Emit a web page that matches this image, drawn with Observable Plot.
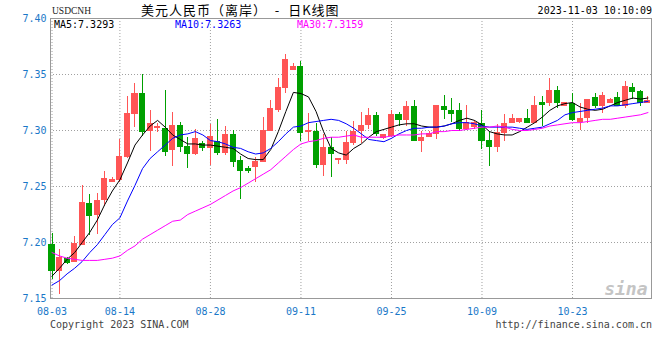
<!DOCTYPE html>
<html><head><meta charset="utf-8">
<script src="https://cdn.jsdelivr.net/npm/d3@7"></script>
<script src="https://cdn.jsdelivr.net/npm/@observablehq/plot@0.6"></script>
<style>
body{margin:0;background:#fff;}
#wrap{position:relative;width:660px;height:360px;font-family:"DejaVu Sans Mono",monospace;font-size:10px;color:#000;}
#chart{position:absolute;left:0;top:0;}
.t{position:absolute;white-space:pre;line-height:1;}
</style></head><body>
<div id="wrap"><div id="chart"></div></div>
<script>
// ---- data ----
const symbol = "USDCNH";
const title = "美元人民币（离岸）  -  日K线图";
const stamp = "2023-11-03 10:10:09";
const maLabels = ["MA5:7.3293", "MA10:7.3263", "MA30:7.3159"];
const footerLeft = "Copyright 2023 SINA.COM";
const footerRight = "http://finance.sina.com.cn";
const yTicks = [7.15, 7.20, 7.25, 7.30, 7.35, 7.40];
const tickLabels = ["08-03","08-14","08-28","09-11","09-25","10-09","10-23"];

const open = [7.198,7.175,7.185,7.183,7.198,7.234,7.225,7.238,7.254,7.256,
7.276,7.315,7.333,7.300,7.302,7.301,7.283,7.304,7.285,7.279,
7.288,7.284,7.290,7.280,7.296,7.273,7.266,7.267,7.272,7.300,
7.318,7.338,7.354,7.357,7.299,7.299,7.269,7.284,7.274,7.274,
7.289,7.300,7.305,7.313,7.293,7.295,7.314,7.309,7.321,7.291,
7.294,7.297,7.321,7.317,7.317,7.301,7.303,7.306,7.291,7.285,
7.298,7.307,7.308,7.310,7.307,7.325,7.325,7.335,7.322,7.324,
7.308,7.311,7.329,7.322,7.325,7.329,7.322,7.338,7.334,7.325];
const high = [7.208,7.194,7.187,7.205,7.251,7.243,7.244,7.263,7.258,7.292,
7.330,7.342,7.350,7.318,7.306,7.336,7.316,7.307,7.294,7.301,
7.290,7.305,7.310,7.304,7.300,7.277,7.268,7.276,7.312,7.327,
7.346,7.368,7.360,7.362,7.315,7.306,7.296,7.294,7.275,7.299,
7.308,7.316,7.320,7.316,7.296,7.318,7.316,7.326,7.327,7.299,
7.299,7.322,7.331,7.329,7.324,7.322,7.309,7.318,7.299,7.305,
7.314,7.314,7.310,7.319,7.330,7.330,7.346,7.339,7.325,7.333,
7.324,7.327,7.333,7.334,7.329,7.334,7.344,7.342,7.336,7.330];
const low = [7.167,7.154,7.180,7.182,7.197,7.206,7.207,7.232,7.254,7.254,
7.275,7.303,7.295,7.281,7.298,7.277,7.268,7.280,7.266,7.278,
7.281,7.269,7.278,7.278,7.267,7.238,7.262,7.254,7.271,7.299,
7.316,7.333,7.354,7.290,7.290,7.266,7.259,7.258,7.270,7.270,
7.287,7.288,7.301,7.295,7.292,7.294,7.304,7.304,7.290,7.280,
7.294,7.292,7.310,7.307,7.299,7.300,7.301,7.283,7.268,7.280,
7.290,7.306,7.306,7.306,7.306,7.304,7.321,7.320,7.321,7.308,
7.300,7.306,7.320,7.315,7.324,7.321,7.320,7.328,7.321,7.324];
const close = [7.175,7.186,7.182,7.199,7.235,7.224,7.237,7.257,7.256,7.276,
7.315,7.333,7.299,7.306,7.303,7.281,7.304,7.285,7.279,7.292,
7.284,7.294,7.280,7.296,7.272,7.264,7.264,7.272,7.300,7.319,
7.338,7.363,7.357,7.298,7.300,7.269,7.284,7.279,7.275,7.289,
7.299,7.304,7.313,7.297,7.296,7.314,7.309,7.321,7.291,7.293,
7.297,7.322,7.318,7.315,7.301,7.307,7.307,7.291,7.285,7.298,
7.306,7.310,7.310,7.307,7.322,7.323,7.335,7.325,7.325,7.309,
7.310,7.327,7.322,7.331,7.327,7.322,7.339,7.334,7.325,7.326];
const ma5 = [7.170,7.177,7.185,7.191,7.200,7.209,7.220,7.234,7.246,7.256,
7.271,7.287,7.296,7.304,7.309,7.303,7.296,7.292,7.288,7.288,
7.287,7.287,7.286,7.285,7.284,7.279,7.275,7.274,7.274,7.283,
7.299,7.317,7.334,7.333,7.330,7.317,7.299,7.284,7.280,7.278,
7.284,7.288,7.294,7.299,7.301,7.303,7.305,7.306,7.306,7.304,
7.303,7.303,7.304,7.306,7.309,7.311,7.309,7.305,7.299,7.297,
7.296,7.296,7.299,7.303,7.307,7.312,7.318,7.322,7.324,7.325,
7.321,7.319,7.318,7.319,7.322,7.325,7.327,7.329,7.328,7.329];
const ma10 = [7.162,7.166,7.172,7.177,7.183,7.191,7.198,7.207,7.216,7.222,
7.237,7.251,7.266,7.275,7.281,7.287,7.293,7.296,7.297,7.299,
7.296,7.291,7.290,7.288,7.285,7.284,7.281,7.279,7.280,7.284,
7.290,7.297,7.303,7.304,7.307,7.308,7.309,7.310,7.309,7.306,
7.302,7.297,7.292,7.291,7.290,7.293,7.297,7.300,7.302,7.302,
7.303,7.303,7.304,7.306,7.307,7.307,7.306,7.304,7.303,7.303,
7.303,7.303,7.302,7.301,7.302,7.303,7.306,7.309,7.314,7.316,
7.317,7.318,7.319,7.320,7.322,7.322,7.323,7.324,7.325,7.326];
const ma30 = [7.191,7.188,7.186,7.185,7.184,7.184,7.184,7.185,7.186,7.188,
7.193,7.197,7.203,7.207,7.211,7.215,7.219,7.220,7.225,7.228,
7.231,7.234,7.238,7.242,7.246,7.249,7.253,7.257,7.261,7.265,
7.271,7.277,7.283,7.288,7.290,7.291,7.293,7.294,7.294,7.295,
7.296,7.294,7.294,7.294,7.294,7.295,7.296,7.296,7.296,7.297,
7.297,7.299,7.299,7.300,7.300,7.301,7.302,7.303,7.303,7.304,
7.303,7.301,7.300,7.300,7.301,7.302,7.304,7.305,7.306,7.307,
7.307,7.308,7.309,7.310,7.310,7.311,7.312,7.313,7.314,7.316];

// trading calendar: Mon–Sat bars from 2023-08-03 to 2023-11-03
const fmt = d3.utcFormat("%m-%d");
const dates = d3.utcDay.range(new Date(Date.UTC(2023,7,3)), new Date(Date.UTC(2023,10,4)))
  .filter(d => d.getUTCDay() !== 0).map(fmt);

const RED = "#ff5555", GREEN = "#00a000", AXIS = "#1a78c8", GRID = "#a0a0a0";
const rows = close.map((c, i) => ({
  i, date: dates[i], open: open[i], high: high[i], low: low[i], close: c,
  ma5: ma5[i], ma10: ma10[i], ma30: ma30[i],
  color: c >= open[i] ? RED : GREEN
}));
const tickIdx = tickLabels.map(l => dates.indexOf(l));

const chart = Plot.plot({
  width: 660, height: 360,
  marginTop: 18, marginBottom: 62, marginLeft: 50, marginRight: 9,
  x: {type: "linear", domain: [-0.2, 79.47], axis: null},
  y: {domain: [7.15, 7.40], axis: null},
  style: {background: "transparent", fontFamily: "DejaVu Sans Mono, monospace", fontSize: "10px"},
  marks: [
    Plot.gridY(yTicks, {stroke: GRID, strokeOpacity: 1, strokeDasharray: "1,2"}),
    Plot.gridX(tickIdx, {stroke: GRID, strokeOpacity: 1, strokeDasharray: "1,2"}),
    Plot.axisY(yTicks, {tickSize: 0, tickPadding: 4, tickFormat: d3.format(".2f"), color: AXIS, label: null}),
    Plot.axisX(tickIdx, {tickSize: 0, tickPadding: 9, tickFormat: i => dates[i], color: AXIS, label: null}),
    Plot.frame({stroke: "#999"}),
    Plot.text(["sina"], {frameAnchor: "bottom-right", text: d => d, dx: -4, dy: -4,
      fontSize: 18, fontWeight: "bold", fontStyle: "italic", fill: "#c4c4c4"}),
    Plot.ruleX(rows, {x: "i", y1: "low", y2: "high", stroke: "color", shapeRendering: "crispEdges"}),
    Plot.rect(rows, {x1: d => d.i - 0.4, x2: d => d.i + 0.4, y1: "open", y2: "close",
      fill: "color", insetTop: -0.5, insetBottom: -0.5, shapeRendering: "crispEdges"}),
    Plot.line(rows, {x: "i", y: "ma5", stroke: "#000", strokeWidth: 1}),
    Plot.line(rows, {x: "i", y: "ma10", stroke: "#0000ff", strokeWidth: 1}),
    Plot.line(rows, {x: "i", y: "ma30", stroke: "#ff00ff", strokeWidth: 1})
  ]
});
document.getElementById("chart").appendChild(chart);

// header / legend / footer texts
const wrap = document.getElementById("wrap");
function addText(txt, css) {
  const el = document.createElement("div");
  el.className = "t"; el.textContent = txt; el.style.cssText = css;
  wrap.appendChild(el);
}
addText(symbol, "left:52px;top:7px;font-family:'Liberation Serif',serif;font-size:9.5px;color:#222;");
addText(title, "left:141px;top:3px;font-family:'Noto Sans CJK SC',sans-serif;font-size:13px;letter-spacing:1px;color:#000;");
addText(stamp, "right:8px;top:6px;color:#000;");
const maColors = ["#000", "#0000ff", "#ff00ff"];
const maLeft = [54, 175, 297];
maLabels.forEach((l, k) => addText(l, `left:${maLeft[k]}px;top:20px;color:${maColors[k]};`));
addText(footerLeft, "left:50px;top:320px;color:#444;");
addText(footerRight, "right:8px;top:320px;color:#444;");
</script>
</body></html>
